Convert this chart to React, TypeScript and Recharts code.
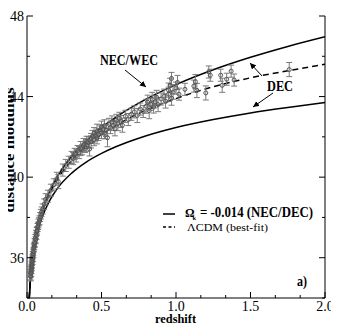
import React from 'react'
import { ComposedChart, Line, Scatter, ErrorBar, XAxis, YAxis } from 'recharts'

// redshift grid used for the three model curves
const curveZ = [0.015, 0.02, 0.03, 0.05, 0.075, 0.1, 0.15, 0.2, 0.3, 0.4, 0.5, 0.6, 0.75, 1.0, 1.25, 1.5, 1.75, 2.0]
// Omega_k = -0.014, NEC/WEC upper bound
const upperMu = [33.99, 34.63, 35.53, 36.68, 37.61, 38.29, 39.26, 39.98, 41.04, 41.82, 42.46, 42.99, 43.67, 44.59, 45.33, 45.95, 46.49, 46.97]
// Omega_k = -0.014, DEC lower bound
const lowerMu = [33.94, 34.56, 35.43, 36.52, 37.38, 37.98, 38.81, 39.4, 40.2, 40.76, 41.18, 41.52, 41.93, 42.46, 42.86, 43.19, 43.46, 43.7]
// LambdaCDM best fit (dashed)
const lcdmMu = [33.98, 34.62, 35.51, 36.65, 37.57, 38.22, 39.16, 39.85, 40.83, 41.55, 42.11, 42.58, 43.16, 43.9, 44.49, 44.93, 45.28, 45.6]

// supernova sample
const snZ = [
	0.024, 0.025, 0.026, 0.027, 0.028, 0.029, 0.03, 0.031, 0.032, 0.033, 0.034, 0.036, 0.037, 0.039, 0.04, 0.042, 0.043, 0.045,
	0.047, 0.049, 0.051, 0.053, 0.056, 0.058, 0.061, 0.063, 0.066, 0.068, 0.071, 0.074, 0.077, 0.08, 0.084, 0.088, 0.093, 0.098,
	0.105, 0.115, 0.125, 0.14, 0.16, 0.18, 0.2, 0.21, 0.24, 0.26, 0.28, 0.3,
	0.31, 0.32, 0.33, 0.34, 0.35, 0.36, 0.37, 0.38, 0.39, 0.4, 0.4, 0.41, 0.42, 0.43, 0.43, 0.44, 0.45, 0.45, 0.46, 0.47, 0.47,
	0.48, 0.49, 0.5, 0.5, 0.51, 0.52, 0.52, 0.53, 0.54, 0.55, 0.56, 0.57, 0.58, 0.59, 0.6, 0.61, 0.62, 0.63, 0.64, 0.66, 0.68,
	0.7, 0.72, 0.74, 0.76, 0.78, 0.8, 0.81, 0.82, 0.83, 0.84, 0.85, 0.86, 0.87, 0.88, 0.9, 0.92, 0.93, 0.95, 0.95, 0.96, 0.97,
	0.97, 0.98, 1.0, 1.01, 1.02, 1.06, 1.12, 1.13, 1.14, 1.2, 1.22, 1.23, 1.3, 1.31, 1.34, 1.37, 1.39, 1.76,
]
const snMu = [
	35.1, 35.22, 35.05, 35.38, 35.28, 35.5, 35.42, 35.66, 35.58, 35.8, 35.7, 35.96, 35.86, 36.12, 36.02, 36.3, 36.2, 36.46,
	36.52, 36.58, 36.76, 36.7, 36.96, 36.88, 37.16, 37.08, 37.3, 37.36, 37.5, 37.58, 37.7, 37.78, 37.86, 38.02, 38.16, 38.28,
	38.42, 38.66, 38.9, 39.05, 39.35, 39.62, 39.92, 39.78, 40.35, 40.58, 40.74, 40.98,
	40.92, 41.15, 41.05, 41.32, 41.22, 41.42, 41.36, 41.62, 41.5, 41.78, 41.58, 41.72, 41.4, 41.92, 41.75, 42.02, 41.86, 42.18, 42.05, 42.28, 41.95,
	42.12, 42.34, 42.22, 42.48, 42.36, 42.55, 42.18, 42.32, 41.96, 42.62, 42.46, 42.74, 42.56, 42.4, 42.82, 42.66, 42.92, 42.76, 42.58, 43.02, 42.86,
	43.12, 43.24, 43.06, 43.38, 43.26, 43.52, 43.72, 43.3, 43.62, 43.86, 43.48, 43.74, 43.96, 43.6, 43.88, 44.02, 43.78, 44.12, 44.32, 44.56, 43.92,
	44.9, 44.22, 44.42, 44.7, 44.12, 44.36, 44.52, 44.74, 44.3, 44.18, 45.22, 45.06, 45.06, 44.56, 44.86, 45.26, 44.82, 45.34,
]
const snErr = [
	0.2, 0.18, 0.2, 0.18, 0.2, 0.18, 0.2, 0.18, 0.2, 0.18, 0.2, 0.18, 0.2, 0.18, 0.2, 0.18, 0.2, 0.18,
	0.2, 0.18, 0.2, 0.18, 0.2, 0.18, 0.2, 0.18, 0.2, 0.18, 0.2, 0.18, 0.22, 0.2, 0.22, 0.22, 0.24, 0.24,
	0.25, 0.26, 0.28, 0.3, 0.3, 0.3, 0.32, 0.35, 0.3, 0.3, 0.3, 0.3,
	0.3, 0.28, 0.3, 0.25, 0.3, 0.35, 0.25, 0.3, 0.28, 0.25, 0.3, 0.3, 0.35, 0.25, 0.3, 0.3, 0.3, 0.28, 0.25, 0.35, 0.3,
	0.3, 0.25, 0.3, 0.3, 0.25, 0.3, 0.28, 0.3, 0.45, 0.3, 0.3, 0.3, 0.25, 0.35, 0.3, 0.35, 0.3, 0.3, 0.35, 0.3, 0.3,
	0.3, 0.3, 0.35, 0.3, 0.3, 0.35, 0.35, 0.4, 0.3, 0.35, 0.3, 0.3, 0.35, 0.35, 0.3, 0.35, 0.35, 0.35, 0.35, 0.35, 0.35,
	0.3, 0.35, 0.3, 0.35, 0.3, 0.3, 0.3, 0.35, 0.35, 0.35, 0.3, 0.3, 0.3, 0.35, 0.3, 0.3, 0.3, 0.35,
]

const xTicks = [0, 0.1667, 0.3333, 0.5, 0.6667, 0.8333, 1, 1.1667, 1.3333, 1.5, 1.6667, 1.8333, 2]
const yTicks = [34, 36, 38, 40, 42, 44, 46, 48]

const upperData = curveZ.map((z, i) => ({ z, mu: upperMu[i] }))
const lowerData = curveZ.map((z, i) => ({ z, mu: lowerMu[i] }))
const lcdmData = curveZ.map((z, i) => ({ z, mu: lcdmMu[i] }))
const snData = snZ.map((z, i) => ({ z, mu: snMu[i], err: snErr[i] }))

const SERIF = '"Liberation Serif", "Times New Roman", serif'
const W = 339
const H = 332

const isMajorX = (v: number) => Math.abs(v * 2 - Math.round(v * 2)) < 1e-6
const isMajorY = (v: number) => v % 4 === 0

const BottomTick = ({ x, y, payload }: any) => {
	const major = isMajorX(payload.value)
	return (
		<g>
			<line x1={x} x2={x} y1={y} y2={y - (major ? 6 : 3)} stroke='#000' />
			{major && (
				<text x={x} y={y + 12.5} textAnchor='middle' fontFamily={SERIF} fontSize={14} fill='#000'>
					{payload.value.toFixed(1)}
				</text>
			)}
		</g>
	)
}

const TopTick = ({ x, y, payload }: any) => {
	const major = isMajorX(payload.value)
	return <line x1={x} x2={x} y1={y} y2={y + (major ? 6 : 3)} stroke='#000' />
}

const LeftTick = ({ x, y, payload }: any) => {
	const major = isMajorY(payload.value)
	return (
		<g>
			<line x1={x} x2={x + (major ? 6 : 3)} y1={y} y2={y} stroke='#000' />
			{major && (
				<text x={x - 3} y={y + 5} textAnchor='end' fontFamily={SERIF} fontSize={14} fill='#000'>
					{payload.value}
				</text>
			)}
		</g>
	)
}

const RightTick = ({ x, y, payload }: any) => {
	const major = isMajorY(payload.value)
	return <line x1={x} x2={x - (major ? 6 : 3)} y1={y} y2={y} stroke='#000' />
}

const SnPoint = ({ cx, cy }: any) => <circle cx={cx} cy={cy} r={2} fill='none' stroke='#555' strokeWidth={1} />

export default function App() {
	return (
		<div style={{ position: 'relative', width: W, height: H, margin: '-8px 0 0 -8px' }}>
			<ComposedChart width={W} height={H} margin={{ top: 16, right: 0, bottom: 0, left: 0 }}>
				<XAxis
					xAxisId={0}
					type='number'
					dataKey='z'
					domain={[0, 2]}
					ticks={xTicks}
					interval={0}
					allowDataOverflow
					height={34}
					tickSize={0}
					tickMargin={0}
					tickLine={false}
					axisLine={{ stroke: '#000' }}
					tick={<BottomTick />}
				/>
				<XAxis
					xAxisId='top'
					orientation='top'
					type='number'
					dataKey='z'
					domain={[0, 2]}
					ticks={xTicks}
					interval={0}
					allowDataOverflow
					height={0}
					tickSize={0}
					tickMargin={0}
					tickLine={false}
					axisLine={{ stroke: '#000' }}
					tick={<TopTick />}
				/>
				<YAxis
					yAxisId={0}
					type='number'
					domain={[34, 48]}
					ticks={yTicks}
					interval={0}
					allowDataOverflow
					width={27}
					tickSize={0}
					tickMargin={0}
					tickLine={false}
					axisLine={{ stroke: '#000' }}
					tick={<LeftTick />}
				/>
				<YAxis
					yAxisId='right'
					orientation='right'
					type='number'
					domain={[34, 48]}
					ticks={yTicks}
					interval={0}
					allowDataOverflow
					width={14}
					tickSize={0}
					tickMargin={0}
					tickLine={false}
					axisLine={{ stroke: '#000' }}
					tick={<RightTick />}
				/>
				<Line data={upperData} dataKey='mu' type='monotone' stroke='#000' strokeWidth={1.5} dot={false} isAnimationActive={false} />
				<Line data={lowerData} dataKey='mu' type='monotone' stroke='#000' strokeWidth={1.5} dot={false} isAnimationActive={false} />
				<Line
					data={lcdmData}
					dataKey='mu'
					type='monotone'
					stroke='#000'
					strokeWidth={1.5}
					strokeDasharray='6 4'
					dot={false}
					isAnimationActive={false}
				/>
				<Scatter data={snData} dataKey='mu' shape={<SnPoint />} isAnimationActive={false}>
					<ErrorBar dataKey='err' direction='y' width={3} stroke='#7a7a7a' strokeWidth={1} />
				</Scatter>
			</ComposedChart>
			<svg width={W} height={H} style={{ position: 'absolute', left: 0, top: 0, pointerEvents: 'none' }}>
				<defs>
					<marker id='arr' viewBox='0 0 10 10' refX='10' refY='5' markerWidth='6' markerHeight='6' orient='auto'>
						<path d='M0,0 L10,5 L0,10 z' fill='#000' />
					</marker>
				</defs>
				<text
					transform='translate(14,150) rotate(-90)'
					textAnchor='middle'
					fontFamily={SERIF}
					fontWeight='bold'
					fontSize={14}
					textLength={125}
					lengthAdjust='spacingAndGlyphs'
				>
					distance modulus
				</text>
				<text x={155} y={323} fontFamily={SERIF} fontWeight='bold' fontSize={12.5} textLength={41} lengthAdjust='spacingAndGlyphs'>
					redshift
				</text>

				<line x1={163} x2={175} y1={214} y2={214} stroke='#000' strokeWidth={1.5} />
				<text x={185} y={217} fontFamily={SERIF} fontWeight='bold' fontSize={12}>
					Ω
					<tspan x={192.5} dy={2.5} fontSize={6.5}>
						κ
					</tspan>
					<tspan x={200} dy={-2.5} fontSize={14} textLength={113} lengthAdjust='spacingAndGlyphs'>
						= -0.014 (NEC/DEC)
					</tspan>
				</text>
				<line x1={163} x2={175} y1={227} y2={227} stroke='#000' strokeWidth={1.5} strokeDasharray='3 2.5' />
				<text x={187} y={231} fontFamily={SERIF} fontSize={11} textLength={81} lengthAdjust='spacingAndGlyphs'>
					ΛCDM (best-fit)
				</text>
				<text x={297} y={286} fontFamily={SERIF} fontWeight='bold' fontSize={14} textLength={10} lengthAdjust='spacingAndGlyphs'>
					a)
				</text>

				<text x={100} y={65} fontFamily={SERIF} fontWeight='bold' fontSize={15} textLength={58} lengthAdjust='spacingAndGlyphs'>
					NEC/WEC
				</text>
				<line x1={125} y1={70} x2={146} y2={87} stroke='#000' strokeWidth={1} markerEnd='url(#arr)' />
				<text x={267} y={91} fontFamily={SERIF} fontWeight='bold' fontSize={15} textLength={26} lengthAdjust='spacingAndGlyphs'>
					DEC
				</text>
				<line x1={262} y1={76} x2={250} y2={63} stroke='#000' strokeWidth={1} markerEnd='url(#arr)' />
				<line x1={273} y1={93} x2={253} y2={107} stroke='#000' strokeWidth={1} markerEnd='url(#arr)' />
			</svg>
		</div>
	)
}
